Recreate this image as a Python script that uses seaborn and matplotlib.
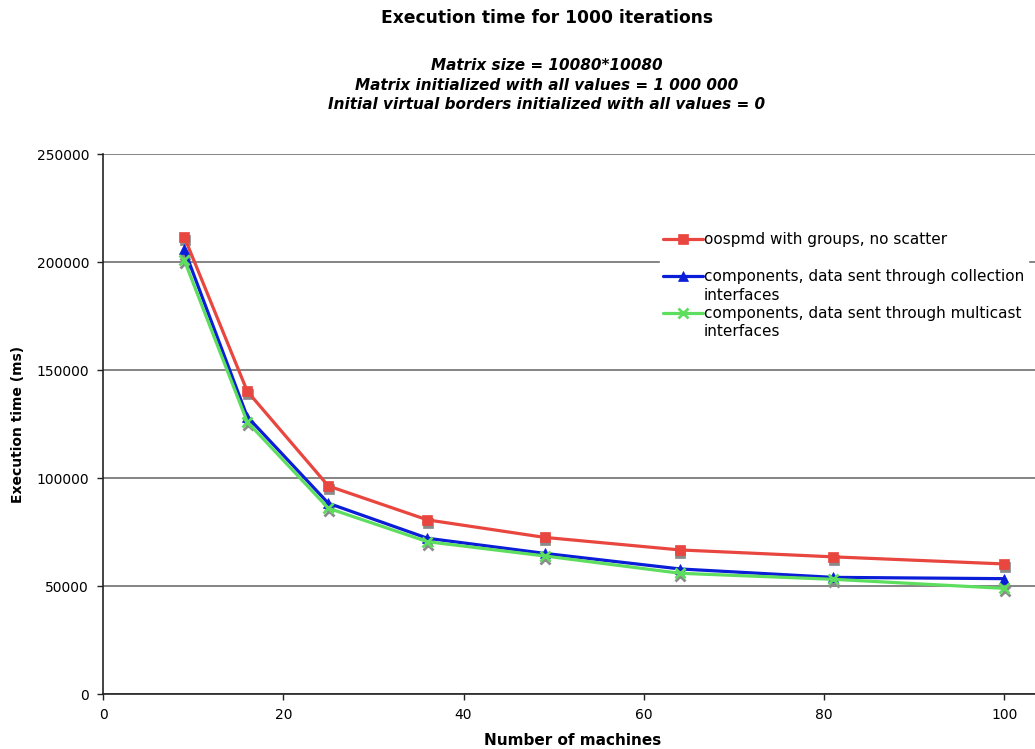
import matplotlib
matplotlib.use("Agg")
import matplotlib.pyplot as plt
import matplotlib.transforms as mtransforms
from matplotlib.lines import Line2D
import seaborn as sns
import pandas as pd

# Number of machines used in each run
machines = [9, 16, 25, 36, 49, 64, 81, 100]

# Execution time (ms) for 1000 iterations
oospmd_groups = [211800, 140200, 96300, 80600, 72500, 66700, 63500, 60200]
comp_collection = [206000, 128400, 88300, 72100, 65100, 57900, 54000, 53400]
comp_multicast = [201000, 126000, 86000, 70500, 63900, 55900, 53100, 48900]

series_names = [
    "oospmd with groups, no scatter",
    "components, data sent through collection",
    "components, data sent through multicast",
]
series_values = [oospmd_groups, comp_collection, comp_multicast]
colors = ["#E8463E", "#0A1ED8", "#5EDE5E"]
markers = ["s", "^", "x"]

frames = []
for name, vals in zip(series_names, series_values):
    frames.append(pd.DataFrame({"machines": machines, "time": vals, "series": name}))
df = pd.concat(frames, ignore_index=True)

sns.set_theme(style="white")
plt.rcParams["font.family"] = ["DejaVu Sans"]
plt.rcParams["text.color"] = "black"
plt.rcParams["axes.labelcolor"] = "black"

fig = plt.figure(figsize=(10.35, 7.49), dpi=100)
ax = fig.add_axes([103 / 1035, 1 - 694 / 749, 1 - 103 / 1035, (694 - 154) / 749])

# grey drop shadows under the markers
shadow = mtransforms.offset_copy(ax.transData, fig=fig, x=0.4, y=-2.2, units="points")
for name, vals, mk in zip(series_names, series_values, markers):
    ax.plot(machines, vals, linestyle="none", marker=mk, markersize=7.5,
            color="#8A8A8A", markeredgecolor="#8A8A8A",
            markeredgewidth=2.0 if mk == "x" else 0.5,
            transform=shadow, zorder=2.5)

for name, color, mk in zip(series_names, colors, markers):
    sub = df[df["series"] == name]
    sns.lineplot(data=sub, x="machines", y="time", ax=ax, color=color,
                 linewidth=2.3, marker=mk, markersize=7.5,
                 markeredgecolor=color, markeredgewidth=2.0 if mk == "x" else 0.5,
                 label=name, zorder=3)

ax.set_xlim(0, 103.4)
ax.set_ylim(0, 250000)
ax.set_xticks([0, 20, 40, 60, 80, 100])
ax.set_yticks([0, 50000, 100000, 150000, 200000, 250000])
ax.yaxis.grid(True, color="#707070", linewidth=1.2)
ax.xaxis.grid(False)
ax.set_axisbelow(True)

for side in ["top", "right"]:
    ax.spines[side].set_visible(False)
for side in ["left", "bottom"]:
    ax.spines[side].set_color("#222222")
    ax.spines[side].set_linewidth(1.2)

ax.tick_params(axis="both", direction="out", length=4, width=1, color="#222222",
               labelsize=10, labelcolor="black", pad=6, left=True, bottom=True)

ax.set_xlabel("Number of machines", fontsize=11, fontweight="bold")
ax.xaxis.set_label_coords((573 - 103) / 932, -39 / 540)
ax.set_ylabel("Execution time (ms)", fontsize=10, fontweight="bold", labelpad=8)

title_x = 547 / 1035
fig.text(title_x, 1 - 18 / 749, "Execution time for 1000 iterations",
         ha="center", va="center", fontsize=12.3, fontweight="bold")
subtitle = ("Matrix size = 10080*10080\n"
            "Matrix initialized with all values = 1 000 000\n"
            "Initial virtual borders initialized with all values = 0")
fig.text(title_x, 1 - 85 / 749, subtitle, ha="center", va="center", fontsize=11,
         fontweight="bold", fontstyle="italic", linespacing=1.38)

# legend: handle on the first line of each entry, wrapped text on its own row
handles, labels = ax.get_legend_handles_labels()
blank = Line2D([], [], linestyle="none")
leg_handles = [handles[0], blank, handles[1], blank, handles[2], blank]
leg_labels = [labels[0], "", labels[1], "interfaces", labels[2], "interfaces"]
leg = ax.legend(leg_handles, leg_labels, loc="upper left",
                bbox_to_anchor=(652 / 1035, 1 - 221 / 749),
                bbox_transform=fig.transFigure, frameon=True, fontsize=11,
                handlelength=2.6, handletextpad=0.05, labelspacing=0.22,
                borderpad=0.25, markerscale=1.0)
leg.get_frame().set_facecolor("white")
leg.get_frame().set_edgecolor("white")
leg.get_frame().set_alpha(1)
leg.get_frame().set_boxstyle("square", pad=0)

fig.savefig("out.png", dpi=100, facecolor="white")
